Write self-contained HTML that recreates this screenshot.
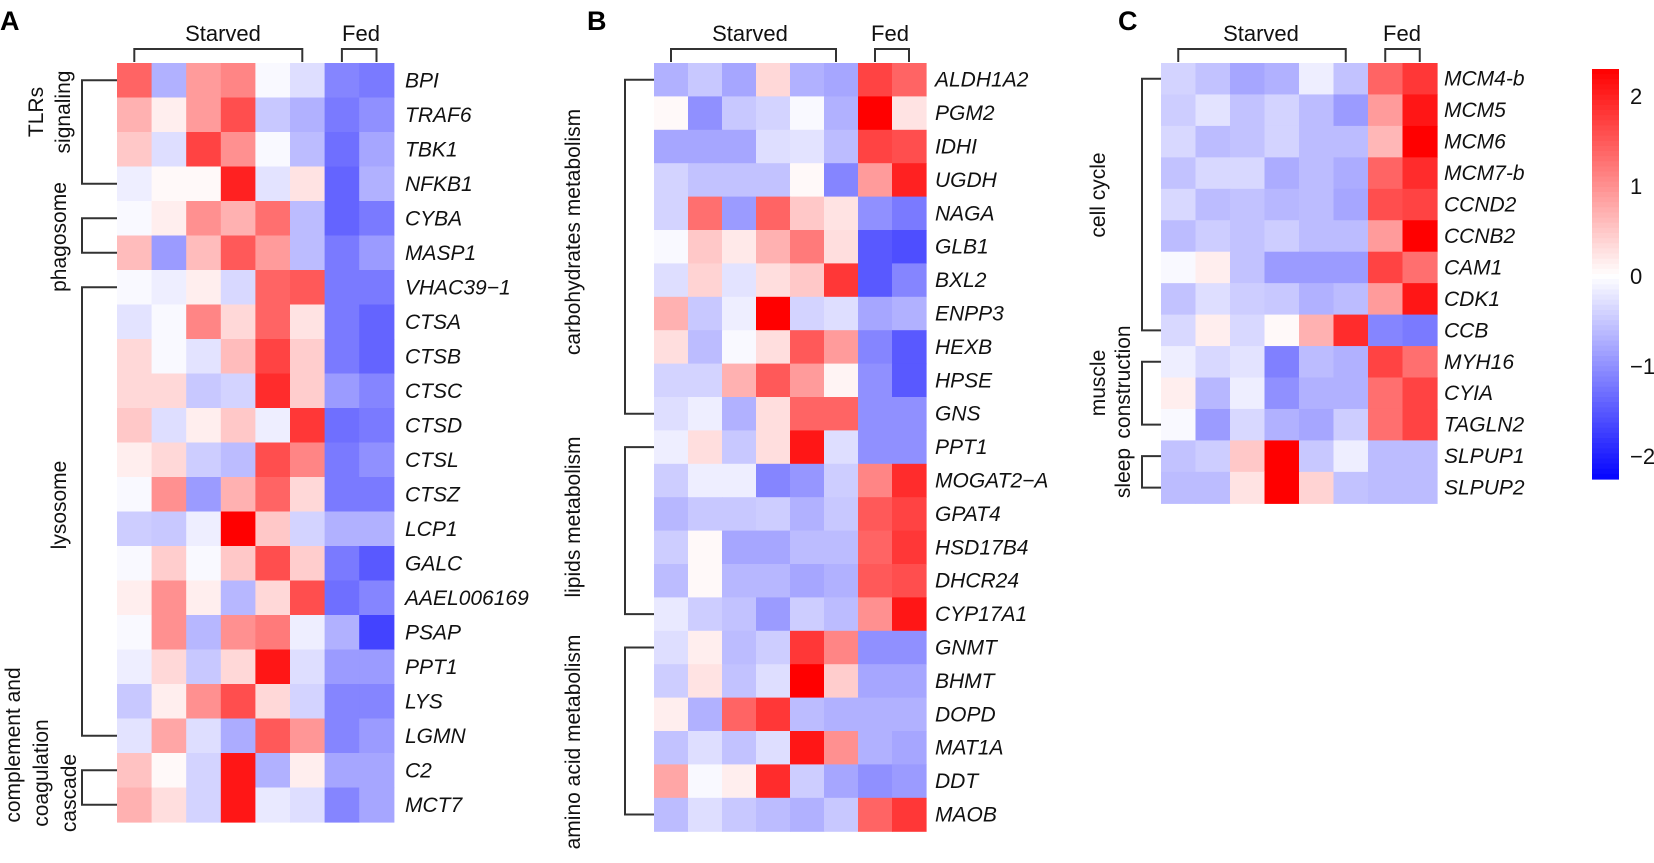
<!DOCTYPE html>
<html><head><meta charset="utf-8"><style>
html,body{margin:0;padding:0;background:#fff;}
svg{display:block;font-family:"Liberation Sans",Arial,sans-serif;}
.g{font-style:italic;font-size:21px;fill:#111;}
.h{font-size:22px;fill:#111;}
.p{font-size:27px;font-weight:bold;fill:#000;}
.grp{font-size:21px;fill:#111;}
.ln{stroke:#333;stroke-width:2;fill:none;}
</style></head><body>
<svg id="fig" width="1654" height="863" viewBox="0 0 1654 863"></svg>
<script>
const genesA=["BPI","TRAF6","TBK1","NFKB1","CYBA","MASP1","VHAC39\u22121","CTSA","CTSB","CTSC","CTSD","CTSL","CTSZ","LCP1","GALC","AAEL006169","PSAP","PPT1","LYS","LGMN","C2","MCT7"];
const valuesA=[
[1.4,-0.7,0.9,1.1,-0.05,-0.3,-1.1,-1.2],
[0.7,0.15,0.9,1.6,-0.5,-0.7,-1.2,-1.0],
[0.5,-0.3,1.7,1.0,-0.05,-0.6,-1.3,-0.8],
[-0.15,0.05,0.05,2.0,-0.25,0.25,-1.4,-0.7],
[-0.05,0.15,1.0,0.7,1.3,-0.6,-1.4,-1.2],
[0.6,-0.9,0.6,1.5,0.9,-0.6,-1.2,-0.9],
[-0.05,-0.15,0.15,-0.35,1.4,1.5,-1.2,-1.2],
[-0.25,-0.05,1.1,0.35,1.4,0.25,-1.2,-1.4],
[0.35,-0.05,-0.25,0.6,1.7,0.45,-1.2,-1.4],
[0.35,0.35,-0.5,-0.4,1.9,0.45,-0.9,-1.1],
[0.5,-0.3,0.15,0.5,-0.15,1.8,-1.3,-1.2],
[0.15,0.35,-0.45,-0.6,1.6,1.1,-1.2,-1.0],
[-0.05,1.0,-0.9,0.7,1.4,0.35,-1.2,-1.2],
[-0.45,-0.5,-0.15,2.3,0.5,-0.4,-0.7,-0.7],
[-0.05,0.45,-0.05,0.5,1.6,0.45,-1.2,-1.5],
[0.15,1.0,0.15,-0.65,0.35,1.6,-1.3,-1.1],
[-0.05,1.0,-0.65,1.0,1.2,-0.15,-0.7,-1.7],
[-0.15,0.35,-0.5,0.35,2.1,-0.3,-0.9,-0.9],
[-0.5,0.15,1.0,1.6,0.35,-0.4,-1.1,-1.1],
[-0.25,0.8,-0.3,-0.75,1.5,0.95,-1.1,-0.9],
[0.55,0.05,-0.4,2.1,-0.7,0.15,-0.8,-0.8],
[0.7,0.3,-0.4,2.1,-0.2,-0.3,-1.1,-0.8]];
const genesB=["ALDH1A2","PGM2","IDHI","UGDH","NAGA","GLB1","BXL2","ENPP3","HEXB","HPSE","GNS","PPT1","MOGAT2\u2212A","GPAT4","HSD17B4","DHCR24","CYP17A1","GNMT","BHMT","DOPD","MAT1A","DDT","MAOB"];
const valuesB=[
[-0.7,-0.5,-0.8,0.35,-0.7,-0.8,1.7,1.4],
[0.05,-1.0,-0.5,-0.4,-0.05,-0.7,2.3,0.25],
[-0.8,-0.8,-0.8,-0.3,-0.25,-0.6,1.7,1.6],
[-0.4,-0.55,-0.55,-0.55,0.05,-1.1,0.9,2.0],
[-0.4,1.3,-0.9,1.4,0.5,0.25,-1.0,-1.2],
[-0.05,0.5,0.2,0.7,1.2,0.3,-1.5,-1.6],
[-0.3,0.4,-0.25,0.3,0.5,1.8,-1.5,-1.1],
[0.7,-0.5,-0.15,2.3,-0.4,-0.3,-0.8,-0.7],
[0.3,-0.6,-0.05,0.3,1.5,0.9,-1.1,-1.5],
[-0.4,-0.4,0.7,1.5,0.9,0.1,-1.0,-1.5],
[-0.3,-0.15,-0.7,0.3,1.4,1.4,-1.0,-1.0],
[-0.15,0.3,-0.5,0.3,2.1,-0.3,-1.0,-1.0],
[-0.45,-0.15,-0.15,-1.1,-0.95,-0.45,1.1,1.9],
[-0.65,-0.5,-0.5,-0.45,-0.7,-0.5,1.5,1.7],
[-0.45,0.05,-0.8,-0.8,-0.6,-0.6,1.4,1.8],
[-0.6,0.05,-0.65,-0.65,-0.8,-0.7,1.5,1.6],
[-0.2,-0.45,-0.55,-0.9,-0.45,-0.6,1.0,2.1],
[-0.3,0.15,-0.6,-0.45,1.8,1.1,-1.0,-1.0],
[-0.45,0.25,-0.55,-0.3,2.3,0.45,-0.8,-0.8],
[0.15,-0.7,1.4,1.8,-0.6,-0.7,-0.7,-0.7],
[-0.55,-0.3,-0.55,-0.3,2.1,1.0,-0.7,-0.8],
[0.8,-0.05,0.15,1.9,-0.45,-0.8,-1.0,-0.9],
[-0.6,-0.3,-0.5,-0.6,-0.7,-0.5,1.4,1.8]];
const genesC=["MCM4-b","MCM5","MCM6","MCM7-b","CCND2","CCNB2","CAM1","CDK1","CCB","MYH16","CYIA","TAGLN2","SLPUP1","SLPUP2"];
const valuesC=[
[-0.4,-0.55,-0.8,-0.7,-0.15,-0.55,1.4,1.8],
[-0.45,-0.25,-0.55,-0.4,-0.6,-0.9,0.9,2.1],
[-0.35,-0.6,-0.55,-0.4,-0.6,-0.6,0.65,2.3],
[-0.55,-0.35,-0.35,-0.75,-0.6,-0.75,1.4,1.9],
[-0.35,-0.6,-0.55,-0.65,-0.6,-0.8,1.6,1.7],
[-0.6,-0.45,-0.55,-0.45,-0.6,-0.6,0.9,2.3],
[-0.05,0.15,-0.55,-0.9,-0.9,-0.9,1.7,1.3],
[-0.55,-0.3,-0.45,-0.5,-0.7,-0.6,0.9,2.1],
[-0.35,0.15,-0.35,0.05,0.7,1.9,-1.1,-1.2],
[-0.15,-0.35,-0.25,-1.15,-0.6,-0.7,1.7,1.3],
[0.15,-0.65,-0.15,-1.0,-0.7,-0.7,1.3,1.7],
[-0.05,-0.9,-0.35,-0.7,-0.8,-0.45,1.3,1.7],
[-0.55,-0.45,0.5,2.3,-0.5,-0.15,-0.6,-0.6],
[-0.6,-0.6,0.25,2.3,0.4,-0.55,-0.6,-0.6]];
const groupsA=[[0,3],[4,5],[6,19],[20,21]];
const groupsB=[[0,10],[11,16],[17,22]];
const groupsC=[[0,8],[9,11],[12,13]];
const colorTicks=[2,1,0,-1,-2];

const NS="http://www.w3.org/2000/svg";
const svg=document.getElementById('fig');
const VMAX=2.3;
function col(v){
  const t=Math.min(Math.abs(v)/VMAX,1);
  const c=Math.round(255*(1-t));
  return v>=0?`rgb(255,${c},${c})`:`rgb(${c},${c},255)`;
}
function mk(tag,attrs,parent){
  const e=document.createElementNS(NS,tag);
  for(const k in attrs)e.setAttribute(k,attrs[k]);
  (parent||svg).appendChild(e);return e;
}
function txt(s,attrs,parent){const e=mk('text',attrs,parent);e.textContent=s;return e;}

function panel(id,letter,letterX,x0,y0,cw,rh,genes,vals,groups,dendX,labX,starved,fed,groupLabels){
  const g=mk('g',{});
  
  
  const L=txt(letter,{x:letterX,y:30,class:'p'},g);
  
  
  vals.forEach((row,r)=>{
    row.forEach((v,c)=>{
      const rc=mk('rect',{x:x0+c*cw,y:y0+r*rh,width:cw+0.6,height:rh+0.6,fill:col(v)},g);
      
      
    });
    const t=txt(genes[r],{x:labX,y:y0+r*rh+rh/2+7,class:'g'},g);
    
    
  });
  // column brackets
  const bt=y0-14, bb=y0-1;
  const sx1=x0+cw/2, sx2=x0+5.5*cw-5, fx1=x0+6.5*cw, fx2=x0+7.5*cw;
  const sb=mk('path',{d:`M${sx1},${bb}V${bt}H${sx2}V${bb}`,class:'ln'},g);
  
  
  const fb=mk('path',{d:`M${fx1},${bb}V${bt}H${fx2}V${bb}`,class:'ln'},g);
  
  
  const st=txt('Starved',{x:starved,y:y0-22,class:'h','text-anchor':'middle'},g);
  
  
  const ft=txt('Fed',{x:fed,y:y0-22,class:'h','text-anchor':'middle'},g);
  
  
  groups.forEach((gr,i)=>{
    const ya=y0+gr[0]*rh+rh/2, yb=y0+gr[1]*rh+rh/2;
    const d=mk('path',{d:`M${x0},${ya}H${dendX}V${yb}H${x0}`,class:'ln'},g);
    
    
  });
  groupLabels.forEach(gl=>{
    const t=txt(gl[0],{x:0,y:0,class:'grp','text-anchor':'middle',transform:`translate(${gl[1]},${gl[2]}) rotate(-90)`},g);
    
    
  });
}
panel('a','A',0,117,63,34.6,34.5,genesA,valuesA,groupsA,82,405,223,361,[
 ['TLRs',43,112],['signaling',70,112],['phagosome',66,237],['lysosome',66,505],
 ['complement and',20,745],['coagulation',48,773],['cascade',76,793]]);
panel('b','B',587,654,63,34,33.4,genesB,valuesB,groupsB,625,935,750,890,[
 ['carbohydrates metabolism',580,232],['lipids metabolism',580,517],['amino acid metabolism',580,742]]);
panel('c','C',1118,1161,63,34.5,31.45,genesC,valuesC,groupsC,1142,1444,1261,1402,[
 ['cell cycle',1105,195],['muscle',1105,383],['construction',1130,382],['sleep',1130,473]]);

// colorbar
const cb=mk('g',{});


const cbTop=69,cbBot=479,cbX=1592,cbW=27,zeroY=276,unit=90;
const N=80;
for(let i=0;i<N;i++){
  const y=cbTop+(cbBot-cbTop)*i/N;
  const v=(zeroY-(y+(cbBot-cbTop)/N/2))/unit;
  const r=mk('rect',{x:cbX,y:y,width:cbW,height:(cbBot-cbTop)/N+0.6,fill:col(v)},cb);
  
  
}
colorTicks.forEach(v=>{
  const t=txt(v<0?'\u2212'+Math.abs(v):String(v),{x:1630,y:zeroY-v*unit+8,class:'h'},cb);
  
  
});
</script>
</body></html>
